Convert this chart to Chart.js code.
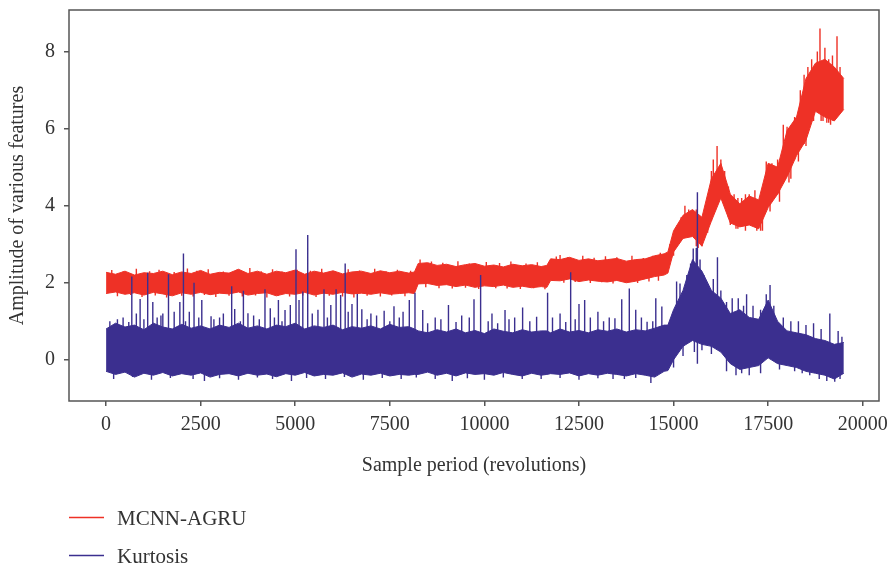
<!DOCTYPE html>
<html>
<head>
<meta charset="utf-8">
<script src="https://cdn.jsdelivr.net/npm/chart.js@4.4.1/dist/chart.umd.min.js"></script>
<style>
  html, body { margin: 0; padding: 0; background: #fff; }
  #wrap { position: relative; width: 891px; height: 567px; }
</style>
</head>
<body>
<div id="wrap"><canvas id="chart"></canvas></div>
<script>
// sample positions (revolutions) of the envelope readings
const sampleX = [0, 250, 500, 750, 1000, 1250, 1500, 1750, 2000, 2250, 2500, 2750, 3000, 3250, 3500, 3750,
  4000, 4250, 4500, 4750, 5000, 5250, 5500, 5750, 6000, 6250, 6500, 6750, 7000, 7250, 7500, 7750,
  8000, 8150, 8250, 8500, 8750, 9000, 9250, 9500, 9750, 10000, 10250, 10500, 10750, 11000, 11250, 11500,
  11650, 11750, 12000, 12250, 12500, 12750, 13000, 13250, 13500, 13750, 14000, 14250, 14500, 14750, 14850, 15000,
  15250, 15500, 15750, 16000, 16250, 16500, 16750, 17000, 17250, 17500, 17750, 18000, 18250, 18500,
  18750, 19000, 19250, 19500];

// MCNN-AGRU: upper / lower edge of the noisy trace
const mcnnHigh = [2.27, 2.22, 2.3, 2.2, 2.26, 2.24, 2.3, 2.21, 2.28, 2.24,
  2.32, 2.22, 2.27, 2.25, 2.35, 2.24, 2.3, 2.22, 2.3, 2.26,
  2.33, 2.22, 2.3, 2.25, 2.31, 2.23, 2.28, 2.3, 2.24, 2.31,
  2.26, 2.3, 2.25, 2.28,
  2.5,
  2.52, 2.45, 2.48, 2.42, 2.47, 2.5, 2.43, 2.46, 2.41, 2.48, 2.44, 2.47, 2.42, 2.45,
  2.62,
  2.6, 2.66, 2.58, 2.62, 2.57, 2.6, 2.63, 2.56, 2.6, 2.62, 2.7,
  2.75, 2.8, 3.35, 3.75, 3.9, 3.7, 4.7, 5.1, 4.3, 4.05, 4.25, 4.15, 5.1, 5.0, 5.95, 6.3, 7.3, 7.7, 7.8, 7.6, 7.3];
const mcnnLow = [1.72, 1.76, 1.7, 1.74, 1.68, 1.75, 1.71, 1.66, 1.74, 1.7,
  1.75, 1.69, 1.73, 1.71, 1.76, 1.68, 1.72, 1.74, 1.66, 1.72,
  1.7, 1.75, 1.68, 1.73, 1.7, 1.75, 1.71, 1.73, 1.7, 1.74,
  1.7, 1.72, 1.74, 1.72,
  1.97,
  1.98, 1.93, 1.95, 1.9, 1.94, 1.88, 1.92, 1.9, 1.94, 1.88, 1.91, 1.87, 1.9, 1.88,
  2.06,
  2.05, 2.1, 2.03, 2.07, 2.04, 2.02, 2.06, 2.0, 2.04, 2.1, 2.16,
  2.2, 2.25, 2.8, 3.15, 3.2, 2.95, 3.6, 4.2, 3.55, 3.45, 3.5, 3.4, 3.95, 4.3, 4.75, 5.3, 5.7, 6.45, 6.3, 6.2, 6.5];
// spikes standing out of the band: [sample, from, to]
const mcnnSpikes = [
  [150, 2.0, 2.33], [450, 2.0, 2.29], [800, 2.0, 2.36], [1150, 2.0, 2.3], [1400, 2.0, 2.34], [1800, 2.0, 2.28],
  [2150, 2.0, 2.37], [2400, 2.0, 2.31], [2700, 2.0, 2.35], [3100, 2.0, 2.29], [3450, 2.0, 2.34], [3800, 2.0, 2.38],
  [4100, 2.0, 2.3], [4400, 2.0, 2.35], [4650, 2.0, 2.29], [5050, 2.0, 2.34], [5400, 2.0, 2.31], [5700, 2.0, 2.36],
  [6050, 2.0, 2.3], [6400, 2.0, 2.35], [6700, 2.0, 2.32], [7100, 2.0, 2.36], [7400, 2.0, 2.3], [7700, 2.0, 2.34],
  [8050, 2.0, 2.31],
  [300, 2.0, 1.65], [650, 2.0, 1.68], [950, 2.0, 1.63], [1300, 2.0, 1.67], [1600, 2.0, 1.62], [2000, 2.0, 1.66],
  [2300, 2.0, 1.64], [2600, 2.0, 1.68], [2900, 2.0, 1.63], [3250, 2.0, 1.66], [3600, 2.0, 1.64], [3950, 2.0, 1.67],
  [4250, 2.0, 1.62], [4550, 2.0, 1.66], [4850, 2.0, 1.64], [5200, 2.0, 1.67], [5550, 2.0, 1.63], [5900, 2.0, 1.66],
  [6250, 2.0, 1.64], [6550, 2.0, 1.62], [6900, 2.0, 1.66], [7250, 2.0, 1.64], [7550, 2.0, 1.67], [7900, 2.0, 1.65],
  [8300, 2.2, 2.6], [8600, 2.2, 2.55], [8900, 2.2, 2.52], [9300, 2.2, 2.56], [9600, 2.2, 2.5], [10050, 2.2, 2.54],
  [10400, 2.2, 2.51], [10700, 2.2, 2.55], [11100, 2.2, 2.5], [11400, 2.2, 2.53],
  [8450, 2.2, 1.88], [8800, 2.2, 1.86], [9150, 2.2, 1.85], [9500, 2.2, 1.87], [9850, 2.2, 1.84], [10300, 2.2, 1.86],
  [10600, 2.2, 1.85], [10950, 2.2, 1.84], [11300, 2.2, 1.86], [11600, 2.2, 1.83],
  [11900, 2.35, 2.68], [12000, 2.35, 2.72], [12200, 2.35, 2.66], [12600, 2.35, 2.7], [12900, 2.35, 2.65],
  [13200, 2.35, 2.69], [13500, 2.35, 2.66], [13900, 2.35, 2.7], [14200, 2.35, 2.64], [14450, 2.35, 2.7],
  [14650, 2.4, 2.78],
  [12100, 2.35, 2.0], [12400, 2.35, 2.02], [12800, 2.35, 1.99], [13100, 2.35, 2.01], [13400, 2.35, 1.98],
  [13750, 2.35, 2.02], [14050, 2.35, 1.99], [14350, 2.35, 2.03], [14600, 2.35, 2.05],
  [14900, 2.6, 3.0], [15100, 3.0, 3.5], [15200, 3.1, 3.7], [15300, 3.3, 4.0], [15400, 3.3, 3.9], [15500, 3.3, 3.85],
  [15600, 2.95, 3.9], [15900, 3.3, 4.0], [16000, 3.6, 4.9], [16050, 4.0, 5.2], [16150, 4.6, 5.55], [16250, 4.3, 5.2],
  [16350, 4.0, 4.9], [16450, 3.7, 4.5], [16600, 3.6, 4.3], [16700, 3.4, 4.2], [16800, 3.6, 4.2], [16900, 3.35, 4.3],
  [17000, 3.6, 4.3], [17150, 3.6, 4.4], [17350, 3.35, 4.0], [17450, 3.9, 5.15], [17600, 4.2, 5.1], [17750, 4.3, 5.2],
  [17900, 4.6, 6.1], [18000, 4.8, 6.05], [18100, 4.7, 6.0], [18200, 5.2, 6.3], [18350, 5.5, 7.0], [18450, 5.6, 7.4],
  [18550, 6.0, 7.6], [18650, 6.3, 7.8], [18800, 6.6, 8.0], [18870, 6.5, 8.6], [18950, 6.2, 7.6], [19000, 6.6, 8.1],
  [19100, 6.15, 7.8], [19200, 6.5, 7.9], [19220, 6.2, 7.2], [19320, 6.5, 8.4], [19400, 6.6, 7.6],
  [15000, 3.0, 2.7], [15650, 3.2, 2.9], [15750, 3.2, 2.95], [16500, 3.8, 3.5], [16650, 3.7, 3.4], [17200, 3.7, 3.35],
  [17300, 3.7, 3.35], [17550, 4.4, 3.85], [17800, 4.6, 4.1], [18050, 5.0, 4.6], [18300, 5.6, 5.15], [18500, 6.0, 5.55],
  [18700, 6.6, 6.2], [18900, 6.6, 6.2], [19050, 6.6, 6.15], [19150, 6.6, 6.1], [19300, 6.7, 6.3]];

// Kurtosis: upper / lower edge of the dense core
const kurtHigh = [0.8, 0.95, 0.85, 0.9, 0.78, 0.95, 0.85, 0.8, 0.92, 0.82,
  0.88, 0.8, 0.9, 0.84, 0.95, 0.82, 0.88, 0.8, 0.9, 0.86,
  0.95, 0.8, 0.88, 0.84, 0.9, 0.78, 0.86, 0.82, 0.88, 0.8,
  0.92, 0.84, 0.86, 0.8,
  0.75, 0.7, 0.78, 0.72, 0.8, 0.7, 0.76, 0.68, 0.8, 0.74,
  0.7, 0.78, 0.72, 0.75, 0.75, 0.7, 0.8, 0.72, 0.76, 0.7, 0.78,
  0.74, 0.8, 0.72, 0.78, 0.75, 0.82,
  0.9, 0.9, 1.3, 1.8, 2.6, 2.3, 1.8, 1.6, 1.2, 1.3, 1.1, 1.05, 1.55, 1.0, 0.75, 0.7, 0.65, 0.55, 0.5, 0.4, 0.45];
const kurtLow = [-0.3, -0.38, -0.32, -0.45, -0.35, -0.4, -0.33, -0.42, -0.36, -0.4,
  -0.34, -0.45, -0.38, -0.36, -0.42, -0.35, -0.4, -0.37, -0.44, -0.36,
  -0.4, -0.33, -0.42, -0.38, -0.4, -0.34, -0.45, -0.37, -0.4, -0.35,
  -0.42, -0.38, -0.4, -0.38,
  -0.38, -0.32, -0.4, -0.35, -0.42, -0.34, -0.38, -0.36, -0.4, -0.33,
  -0.38, -0.42, -0.35, -0.4, -0.38, -0.36, -0.38, -0.34, -0.42, -0.36, -0.4,
  -0.35, -0.38, -0.42, -0.36, -0.4, -0.45,
  -0.3, -0.28, 0.0, 0.35, 0.5, 0.4, 0.35, 0.2, -0.1, -0.25, -0.2, -0.15, 0.05, -0.1, -0.15, -0.2, -0.3, -0.35, -0.4, -0.5, -0.35];
const kurtSpikes = [
  [300, 0.5, 1.05], [680, 0.5, 2.16], [900, 0.5, 1.58], [1100, 0.5, 2.26], [1235, 0.5, 1.5],
  [1350, 0.5, 1.1], [1500, 0.5, 1.2], [1650, 0.5, 2.22], [1950, 0.5, 1.5], [2045, 0.5, 2.76], [2200, 0.5, 1.25],
  [2325, 0.5, 2.0], [2530, 0.5, 1.55], [2775, 0.5, 1.13], [3000, 0.5, 1.1], [3320, 0.5, 1.91], [3400, 0.5, 1.32],
  [3630, 0.5, 1.79], [3750, 0.5, 1.21], [4200, 0.5, 1.83], [4340, 0.5, 1.34], [4555, 0.5, 1.55], [4730, 0.5, 1.29],
  [4870, 0.5, 1.42], [5020, 0.5, 2.87], [5100, 0.5, 1.55], [5200, 0.5, 1.77], [5330, 0.5, 3.24], [5600, 0.5, 1.3],
  [5760, 0.5, 1.83], [5940, 0.5, 1.42], [6080, 0.5, 1.83], [6200, 0.5, 1.68], [6320, 0.5, 2.5], [6500, 0.5, 1.45],
  [6640, 0.5, 1.71], [6760, 0.5, 1.31], [7000, 0.5, 1.2], [7350, 0.5, 1.27], [7610, 0.5, 1.39], [7850, 0.5, 1.25],
  [8015, 0.5, 1.55], [8165, 0.5, 1.74], [8370, 0.5, 1.29], [8700, 0.5, 1.1], [9050, 0.5, 1.42], [9400, 0.5, 1.15],
  [9725, 0.5, 1.57], [9900, 0.5, 2.2], [10200, 0.5, 1.2], [10545, 0.5, 1.29], [10800, 0.5, 1.1], [11010, 0.5, 1.36],
  [11380, 0.5, 1.12], [11670, 0.5, 1.74], [12000, 0.5, 1.2], [12280, 0.5, 2.27], [12500, 0.5, 1.45],
  [12650, 0.5, 1.55], [13000, 0.5, 1.25], [13300, 0.5, 1.1], [13630, 0.5, 1.57], [13830, 0.5, 1.85],
  [14000, 0.5, 1.3], [14300, 0.5, 0.99], [14530, 0.5, 1.6], [14690, 0.5, 1.38],
  [100, 0.4, 1.0], [450, 0.4, 1.1], [600, 0.4, 0.98], [800, 0.4, 1.2], [1000, 0.4, 1.05], [1450, 0.4, 1.15],
  [1800, 0.4, 1.25], [2100, 0.4, 1.0], [2450, 0.4, 1.1], [2850, 0.4, 1.05], [3100, 0.4, 1.2], [3550, 0.4, 1.0],
  [3900, 0.4, 1.15], [4050, 0.4, 1.05], [4450, 0.4, 1.1], [4650, 0.4, 1.0], [5450, 0.4, 1.2], [5850, 0.4, 1.1],
  [6400, 0.4, 1.25], [6900, 0.4, 1.05], [7150, 0.4, 1.15], [7500, 0.4, 1.0], [7750, 0.4, 1.1], [8500, 0.4, 0.95],
  [8850, 0.4, 1.05], [9250, 0.4, 0.98], [9600, 0.4, 1.1], [10100, 0.4, 1.0], [10350, 0.4, 0.95], [10650, 0.4, 1.05],
  [11200, 0.4, 1.0], [11800, 0.4, 1.1], [12150, 0.4, 0.98], [12400, 0.4, 1.05], [12800, 0.4, 1.1], [13150, 0.4, 1.0],
  [13450, 0.4, 1.08], [14150, 0.4, 1.1], [14450, 0.4, 1.0],
  [200, -0.1, -0.5], [700, -0.1, -0.45], [1200, -0.1, -0.52], [1700, -0.1, -0.47], [2300, -0.1, -0.5],
  [2600, -0.1, -0.55], [3000, -0.1, -0.48], [3500, -0.1, -0.52], [4000, -0.1, -0.46], [4400, -0.1, -0.5],
  [4900, -0.1, -0.55], [5300, -0.1, -0.47], [5800, -0.1, -0.5], [6300, -0.1, -0.45], [6800, -0.1, -0.52],
  [7300, -0.1, -0.47], [7800, -0.1, -0.5], [8200, -0.1, -0.46], [8700, -0.1, -0.5], [9150, -0.1, -0.55],
  [9550, -0.1, -0.48], [10000, -0.1, -0.52], [10500, -0.1, -0.46], [11000, -0.1, -0.5], [11500, -0.1, -0.5],
  [12000, -0.1, -0.47], [12500, -0.1, -0.52], [13000, -0.1, -0.48], [13400, -0.1, -0.5], [13700, -0.1, -0.5],
  [14000, -0.1, -0.47], [14400, -0.1, -0.6],
  [15080, 1.0, 2.03], [15170, 1.0, 1.98], [15350, 1.0, 2.2], [15450, 1.2, 2.5], [15520, 1.5, 2.89], [15600, 1.4, 2.9],
  [15630, -0.1, 4.35], [15700, 1.2, 2.6], [15800, 1.0, 2.2], [15900, 0.8, 1.9], [16050, 0.8, 2.1], [16160, 0.7, 2.66],
  [16250, 0.6, 1.8], [16400, 0.5, 1.5], [16550, 0.3, 1.6], [16710, 0.5, 1.6], [16850, 0.3, 1.4], [16930, 0.5, 1.7],
  [17100, 0.2, 1.4], [17300, 0.2, 1.3], [17450, 0.5, 1.7], [17550, 0.8, 1.94], [17650, 0.3, 1.4], [17900, 0.2, 1.1],
  [18100, 0.1, 1.0], [18300, 0.1, 1.0], [18500, 0.0, 0.9], [18700, 0.2, 0.95], [18900, 0.0, 0.8], [19130, 0.2, 1.2],
  [19350, -0.1, 0.75], [19450, -0.1, 0.6],
  [15000, 0.2, -0.2], [15250, 0.5, 0.1], [15550, 0.7, 0.2], [15750, 0.6, 0.25], [16000, 0.5, 0.15],
  [16400, 0.1, -0.3], [16650, 0.0, -0.4], [16800, 0.0, -0.35], [17000, 0.0, -0.4], [17300, 0.0, -0.35],
  [17800, 0.1, -0.25], [18200, 0.0, -0.3], [18400, 0.0, -0.35], [18600, -0.1, -0.4], [18850, -0.1, -0.5],
  [19050, -0.2, -0.55], [19260, -0.2, -0.57], [19400, -0.2, -0.5]];

const seriesNames = ['MCNN-AGRU', 'Kurtosis'];
const seriesColors = ['#ee3126', '#3b2f8f'];
const xTickValues = [0, 2500, 5000, 7500, 10000, 12500, 15000, 17500, 20000];
const yTickValues = [0, 2, 4, 6, 8];

const FONT = "'Liberation Serif', 'DejaVu Serif', serif";
const TEXT = '#333333';
const FRAME = '#555555';

const edge = vals => vals.map((v, i) => ({ x: sampleX[i], y: v }));
const spikes = list => list.flatMap(([x, a, b]) => [{ x, y: a }, { x, y: b }, { x, y: null }]);

function band(name, color, hi, lo, sp, order) {
  return [
    { label: name, data: edge(hi), borderColor: color, backgroundColor: color, borderWidth: 1,
      fill: '+1', pointRadius: 0, order },
    { label: name + ' low', data: edge(lo), borderColor: color, backgroundColor: color, borderWidth: 1,
      fill: false, pointRadius: 0, order },
    { label: name + ' spikes', data: spikes(sp), borderColor: color, borderWidth: 1.4,
      fill: false, pointRadius: 0, spanGaps: false, order }
  ];
}

const datasets = [
  ...band(seriesNames[0], seriesColors[0], mcnnHigh, mcnnLow, mcnnSpikes, 2),
  ...band(seriesNames[1], seriesColors[1], kurtHigh, kurtLow, kurtSpikes, 1)
];

// box around the plot area plus the stacked legend underneath
const framePlugin = {
  id: 'frame',
  afterDraw(chart) {
    const { ctx, chartArea: a } = chart;
    ctx.save();
    ctx.strokeStyle = FRAME;
    ctx.lineWidth = 1.5;
    ctx.strokeRect(a.left, a.top, a.right - a.left, a.bottom - a.top);

    ctx.font = '21px ' + FONT;
    ctx.fillStyle = TEXT;
    ctx.textBaseline = 'alphabetic';
    seriesNames.forEach((name, i) => {
      const y = 517.5 + i * 38;
      ctx.strokeStyle = seriesColors[i];
      ctx.lineWidth = 1.5;
      ctx.beginPath();
      ctx.moveTo(69, y);
      ctx.lineTo(104, y);
      ctx.stroke();
      ctx.fillText(name, 117, y + 7);
    });
    ctx.restore();
  }
};

new Chart(document.getElementById('chart'), {
  type: 'line',
  data: { datasets },
  options: {
    responsive: true,
    maintainAspectRatio: false,
    animation: false,
    layout: { padding: { left: 0, top: 10, right: 12, bottom: 86 } },
    plugins: {
      legend: { display: false },
      tooltip: { enabled: false }
    },
    scales: {
      x: {
        type: 'linear',
        min: -980,
        max: 20430,
        afterBuildTicks: s => { s.ticks = xTickValues.map(v => ({ value: v })); },
        afterFit: s => { s.height = 80; s.paddingLeft = 0; s.paddingRight = 0; },
        grid: { drawOnChartArea: false, drawTicks: true, tickLength: 5, color: FRAME, lineWidth: 1.5 },
        border: { display: false },
        ticks: { color: TEXT, font: { family: FONT, size: 20 }, padding: 7, maxRotation: 0,
          callback: v => String(v) },
        title: { display: true, text: 'Sample period (revolutions)', color: TEXT,
          font: { family: FONT, size: 20 }, padding: { top: 0, bottom: 3 } }
      },
      y: {
        min: -1.07,
        max: 9.08,
        afterBuildTicks: s => { s.ticks = yTickValues.map(v => ({ value: v })); },
        afterFit: s => { s.width = 69; s.paddingTop = 0; s.paddingBottom = 0; },
        grid: { drawOnChartArea: false, drawTicks: true, tickLength: 5, color: FRAME, lineWidth: 1.5 },
        border: { display: false },
        ticks: { color: TEXT, font: { family: FONT, size: 20 }, padding: 9,
          callback: v => String(v) },
        title: { display: true, text: 'Amplitude of various features', color: TEXT,
          font: { family: FONT, size: 20 }, padding: { top: 6, bottom: 0 } }
      }
    }
  },
  plugins: [framePlugin]
});
</script>
</body>
</html>
